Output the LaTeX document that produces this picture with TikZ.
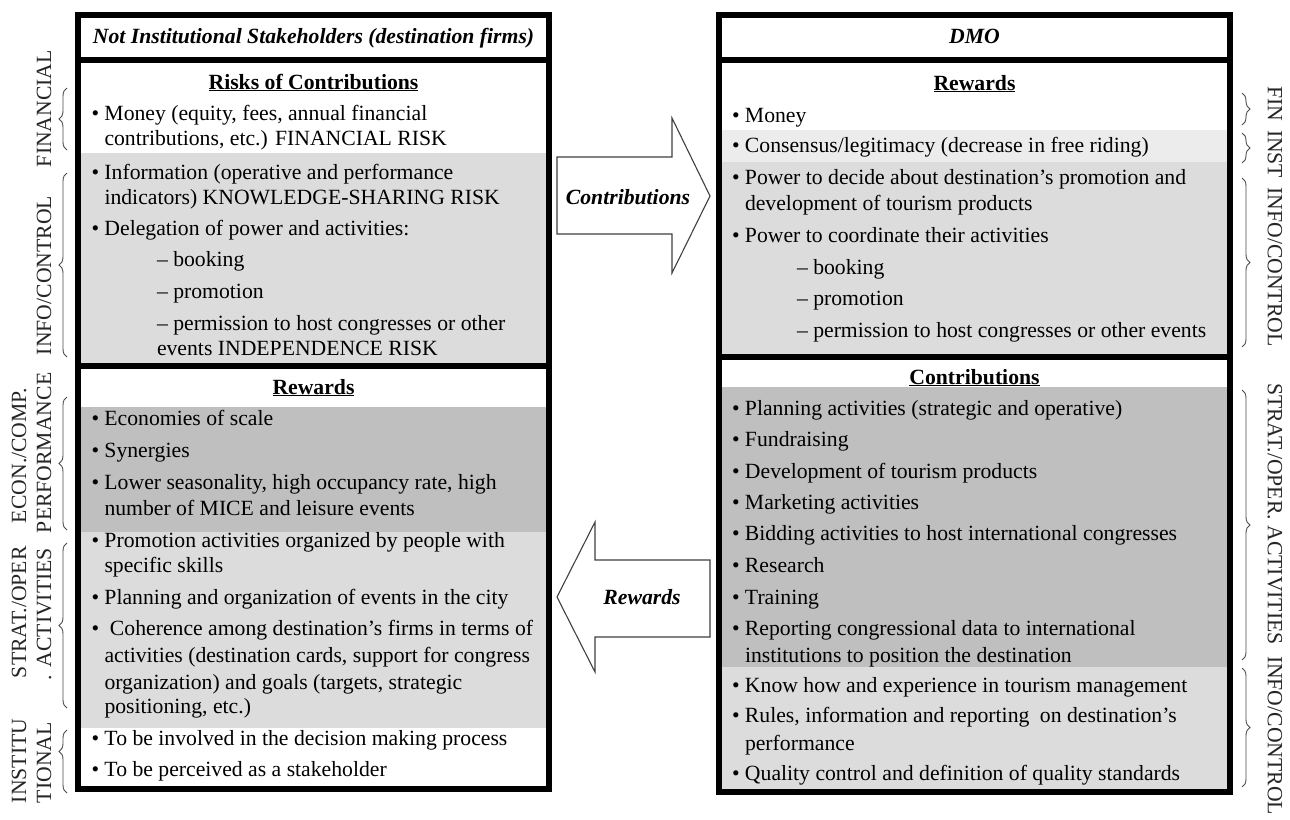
\documentclass[tikz,border=0pt]{standalone}
\usepackage{fontspec}
\setmainfont{Liberation Serif}
\usetikzlibrary{decorations.pathreplacing}
\definecolor{greyA}{RGB}{220,220,220}
\definecolor{greyB}{RGB}{191,191,191}
\definecolor{greyC}{RGB}{236,236,236}
\newcounter{tln}
% bullet line: #1 x of text, #2 row centre, #3 text
\newcommand\bul[3]{\stepcounter{tln}\node[txt] (t\arabic{tln}) at (#1-13,#2+7) {\makebox[13pt][l]{\textbullet}#3};}
% plain line: #1 x, #2 row centre, #3 text
\newcommand\tln[3]{\stepcounter{tln}\node[txt] (t\arabic{tln}) at (#1,#2+7) {#3};}
\begin{document}
\begin{tikzpicture}[x=1pt,y=-1pt,
  every node/.style={inner sep=0pt, outer sep=0pt},
  txt/.style={anchor=base west, font=\fontsize{21.7pt}{26pt}\selectfont},
  ttl/.style={anchor=base, font=\fontsize{21.7pt}{26pt}\selectfont\bfseries},
  hdr/.style={anchor=base, font=\fontsize{21.7pt}{26pt}\selectfont\bfseries\itshape},
  frame/.style={draw=black, line width=5.5pt, anchor=north west},
  sidel/.style={font=\fontsize{21.7pt}{26pt}\selectfont, anchor=west, rotate=90, text=black!85},
  sider/.style={font=\fontsize{21.7pt}{26pt}\selectfont, rotate=-90, text=black!85},
  brc/.style={draw=black!70, line width=0.9pt, decorate, decoration={brace, amplitude=8pt}},
  bigarrow/.style={draw=black!75, line width=1.1pt, fill=white, line join=miter},
]
\useasboundingbox (0,0) rectangle (1290,819);
\fill[white] (0,0) rectangle (1290,819);

% ---- shaded bands ----
\fill[greyA] (78,153) rectangle (549,366);
\fill[greyB] (78,407) rectangle (549,532);
\fill[greyA] (78,532) rectangle (549,728);
\fill[greyC] (719,130) rectangle (1230,162);
\fill[greyA] (719,162) rectangle (1230,357);
\fill[greyB] (719,387) rectangle (1230,667);
\fill[greyA] (719,667) rectangle (1230,792);

% ---- frames ----
\node[frame, minimum width=471pt, minimum height=45pt]  (lhead) at (78,15) {};
\node[frame, minimum width=471pt, minimum height=306pt] (lrisk) at (78,60) {};
\node[frame, minimum width=471pt, minimum height=423pt] (lrew)  at (78,366) {};
\node[frame, minimum width=511pt, minimum height=45pt]  (rhead) at (719,15) {};
\node[frame, minimum width=511pt, minimum height=297pt] (rrew)  at (719,60) {};
\node[frame, minimum width=511pt, minimum height=435pt] (rcon)  at (719,357) {};

% ---- left column ----
\node[hdr] (lhdrtxt) at (313.5,43) {Not Institutional Stakeholders (destination firms)};
\node[ttl] (lrisktxt) at (313.5,89) {\underline{Risks of Contributions}};
\bul{104.5}{113}{Money (equity, fees, annual financial}
\tln{104.5}{138}{contributions, etc.) FINANCIAL RISK}
\bul{104.5}{172}{Information (operative and performance}
\tln{104.5}{197}{indicators) KNOWLEDGE-SHARING RISK}
\bul{104.5}{228}{Delegation of power and activities:}
\tln{157}{259}{– booking}
\tln{157}{291}{– promotion}
\tln{157}{323}{– permission to host congresses or other}
\tln{157}{348}{events INDEPENDENCE RISK}
\node[ttl] (lrewtxt) at (313.5,394) {\underline{Rewards}};
\bul{104.5}{418}{Economies of scale}
\bul{104.5}{450}{Synergies}
\bul{104.5}{482}{Lower seasonality, high occupancy rate, high}
\tln{104.5}{508}{number of MICE and leisure events}
\bul{104.5}{540}{Promotion activities organized by people with}
\tln{104.5}{565}{specific skills}
\bul{104.5}{597}{Planning and organization of events in the city}
\bul{104.5}{628}{\hspace{5.5pt}Coherence among destination’s firms in terms of}
\tln{104.5}{655}{activities (destination cards, support for congress}
\tln{104.5}{682}{organization) and goals (targets, strategic}
\tln{104.5}{706}{positioning, etc.)}
\bul{104.5}{738}{To be involved in the decision making process}
\bul{104.5}{769}{To be perceived as a stakeholder}

% ---- right column ----
\node[hdr] (rhdrtxt) at (974.5,43) {DMO};
\node[ttl] (rrewtxt) at (974.5,90) {\underline{Rewards}};
\bul{745}{115}{Money}
\bul{745}{145}{Consensus/legitimacy (decrease in free riding)}
\bul{745}{177}{Power to decide about destination’s promotion and}
\tln{745}{203}{development of tourism products}
\bul{745}{235}{Power to coordinate their activities}
\tln{797}{267}{– booking}
\tln{797}{298}{– promotion}
\tln{797}{330}{– permission to host congresses or other events}
\node[ttl] (rcontxt) at (974.5,384) {\underline{Contributions}};
\bul{745}{408}{Planning activities (strategic and operative)}
\bul{745}{439}{Fundraising}
\bul{745}{471}{Development of tourism products}
\bul{745}{502}{Marketing activities}
\bul{745}{533}{Bidding activities to host international congresses}
\bul{745}{565}{Research}
\bul{745}{597}{Training}
\bul{745}{628}{Reporting congressional data to international}
\tln{745}{655}{institutions to position the destination}
\bul{745}{685}{Know how and experience in tourism management}
\bul{745}{715}{Rules, information and reporting\hspace{5pt} on destination’s}
\tln{745}{743}{performance}
\bul{745}{773}{Quality control and definition of quality standards}

% ---- block arrows ----
\draw[bigarrow] (557,157) -- (672,157) -- (672,118) -- (710,196) -- (672,273) -- (672,234) -- (557,234) -- cycle;
\node[hdr] (contrib) at (628,204) {Contributions};
\draw[bigarrow] (710,560) -- (595,560) -- (595,522) -- (557,597) -- (595,672) -- (595,637) -- (710,637) -- cycle;
\node[hdr] (reward) at (642,604) {Rewards};

% ---- left category labels and braces ----
\node[sidel] (sfin)  at (44,167) {FINANCIAL};
\node[sidel] (sinfo) at (44,355) {INFO/CONTROL};
\node[sidel] (secon) at (19,523) {ECON./COMP.};
\node[sidel] (sperf) at (44,533) {PERFORMANCE};
\node[sidel] (sstra) at (19,678) {STRAT./OPER};
\node[sidel] (sacti) at (44,680) {. ACTIVITIES};
\node[sidel] (sinst) at (19,803) {INSTITU};
\node[sidel] (stion) at (44,803) {TIONAL};
\draw[brc] (67,150) -- (67,88);
\draw[brc] (67,357) -- (67,173);
\draw[brc] (67,530) -- (67,397);
\draw[brc] (67,708) -- (67,543);
\draw[brc, decoration={brace, amplitude=8pt, aspect=0.66}] (67,793) -- (67,730);

% ---- right category labels and braces ----
\node[sider, anchor=west] (rfin)   at (1275,86)  {FIN};
\node[sider, anchor=west] (rinst)  at (1275,130) {INST};
\node[sider] (rinfo)  at (1275,267) {INFO/CONTROL};
\node[sider, anchor=west] (rstra)  at (1275,383) {STRAT./OPER. ACTIVITIES};
\node[sider, anchor=west] (rinfo2) at (1275,656) {INFO/CONTROL};
\draw[brc] (1242,93) -- (1242,125);
\draw[brc] (1242,133) -- (1242,163);
\draw[brc] (1242,178) -- (1242,347);
\draw[brc] (1242,390) -- (1242,660);
\draw[brc] (1242,668) -- (1242,787);
\end{tikzpicture}
\end{document}
